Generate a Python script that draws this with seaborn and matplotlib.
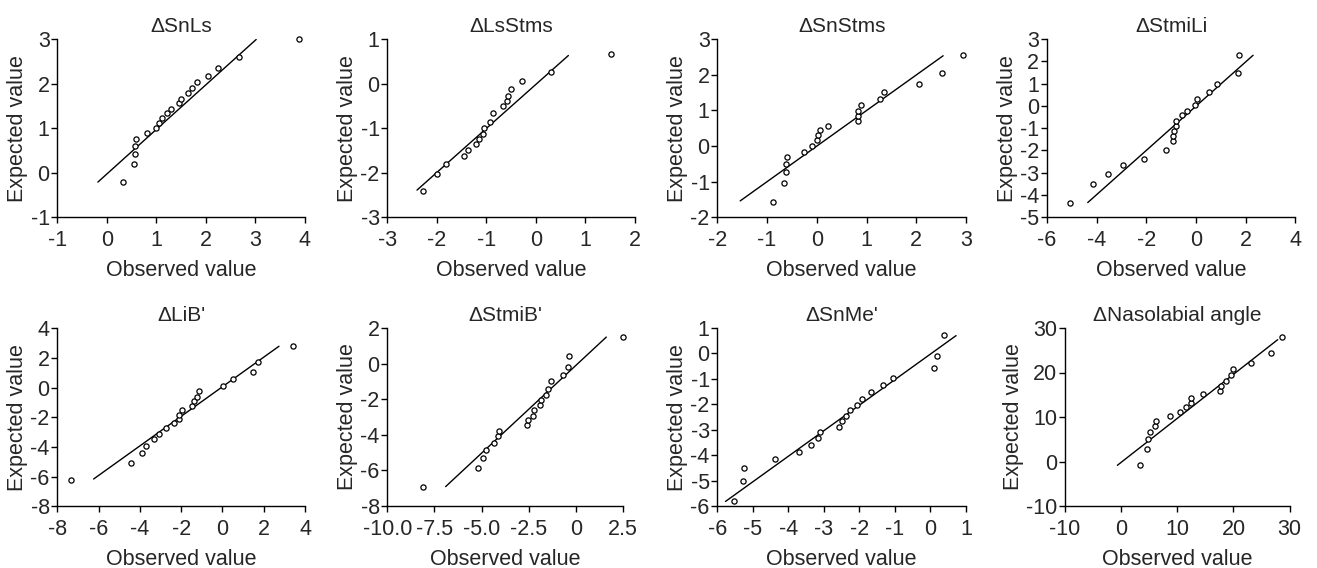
import numpy as np
import pandas as pd
import matplotlib
matplotlib.use("Agg")
import matplotlib.pyplot as plt
import seaborn as sns

# ---------------- data ----------------
titles = ["\u0394SnLs", "\u0394LsStms", "\u0394SnStms", "\u0394StmiLi",
          "\u0394LiB'", "\u0394StmiB'", "\u0394SnMe'", "\u0394Nasolabial angle"]

obs_snls = [0.33, 0.55, 0.57, 0.58, 0.60, 0.81, 0.99, 1.06, 1.12, 1.21, 1.30, 1.45, 1.50, 1.65, 1.73, 1.82, 2.05, 2.25, 2.67, 3.89]
exp_snls = [-0.21, 0.20, 0.42, 0.61, 0.76, 0.88, 1.00, 1.12, 1.22, 1.34, 1.44, 1.56, 1.66, 1.78, 1.89, 2.04, 2.18, 2.36, 2.59, 2.99]
line_x_snls = [-0.18, 3.02]
line_y_snls = [-0.21, 2.99]

obs_lsstms = [-2.27, -2.00, -1.81, -1.44, -1.37, -1.20, -1.14, -1.07, -1.05, -0.92, -0.87, -0.67, -0.59, -0.57, -0.51, -0.27, 0.30, 1.53]
exp_lsstms = [-2.41, -2.02, -1.80, -1.62, -1.49, -1.36, -1.25, -1.14, -1.00, -0.87, -0.67, -0.50, -0.39, -0.27, -0.13, 0.06, 0.27, 0.66]
line_x_lsstms = [-2.40, 0.66]
line_y_lsstms = [-2.39, 0.63]

obs_snstms = [-0.88, -0.65, -0.62, -0.61, -0.60, -0.25, -0.10, 0.00, 0.03, 0.07, 0.22, 0.82, 0.83, 0.83, 0.89, 1.28, 1.36, 2.06, 2.51, 2.93]
exp_snstms = [-1.56, -1.03, -0.74, -0.51, -0.31, -0.16, 0.01, 0.16, 0.30, 0.44, 0.57, 0.71, 0.85, 0.99, 1.16, 1.32, 1.52, 1.75, 2.04, 2.56]
line_x_snstms = [-1.54, 2.54]
line_y_snstms = [-1.54, 2.53]

obs_stmili = [-5.06, -4.13, -3.53, -2.95, -2.08, -1.19, -0.94, -0.94, -0.87, -0.82, -0.79, -0.56, -0.38, -0.04, 0.04, 0.52, 0.83, 1.70, 1.73]
exp_stmili = [-4.35, -3.52, -3.04, -2.67, -2.37, -1.96, -1.59, -1.36, -1.14, -0.92, -0.69, -0.42, -0.23, 0.03, 0.31, 0.62, 1.00, 1.46, 2.30]
line_x_stmili = [-4.36, 2.30]
line_y_stmili = [-4.34, 2.27]

obs_lib = [-7.34, -4.45, -3.90, -3.72, -3.33, -3.09, -2.75, -2.33, -2.09, -2.09, -1.94, -1.47, -1.39, -1.21, -1.13, 0.03, 0.53, 1.48, 1.73, 3.41]
exp_lib = [-6.20, -5.06, -4.43, -3.91, -3.48, -3.15, -2.74, -2.40, -2.13, -1.82, -1.53, -1.21, -0.90, -0.63, -0.20, 0.13, 0.58, 1.06, 1.71, 2.81]
line_x_lib = [-6.24, 2.74]
line_y_lib = [-6.16, 2.79]

obs_stmib = [-8.09, -5.18, -4.92, -4.79, -4.33, -4.16, -4.09, -2.60, -2.57, -2.28, -2.21, -1.90, -1.84, -1.60, -1.49, -1.33, -0.68, -0.45, -0.40, 2.46]
exp_stmib = [-6.93, -5.88, -5.30, -4.83, -4.44, -4.08, -3.76, -3.46, -3.18, -2.92, -2.60, -2.33, -2.02, -1.75, -1.41, -1.00, -0.65, -0.20, 0.42, 1.49]
line_x_stmib = [-6.91, 1.60]
line_y_stmib = [-6.91, 1.49]

obs_snme = [-5.53, -5.28, -5.24, -4.37, -3.69, -3.35, -3.16, -3.10, -2.58, -2.50, -2.39, -2.27, -2.07, -1.93, -1.68, -1.34, -1.05, 0.11, 0.17, 0.37]
exp_snme = [-5.81, -5.02, -4.51, -4.16, -3.87, -3.58, -3.33, -3.10, -2.87, -2.65, -2.47, -2.22, -2.01, -1.77, -1.51, -1.25, -0.95, -0.57, -0.09, 0.73]
line_x_snme = [-5.77, 0.72]
line_y_snme = [-5.81, 0.70]

obs_naso = [3.39, 4.64, 4.76, 5.23, 6.00, 6.24, 8.67, 10.56, 11.57, 12.52, 12.52, 14.59, 17.56, 17.85, 18.74, 19.63, 19.87, 23.13, 26.74, 28.70]
exp_naso = [-0.71, 2.88, 4.98, 6.63, 7.90, 9.18, 10.15, 11.20, 12.17, 13.07, 14.27, 15.09, 15.92, 17.04, 18.09, 19.36, 20.71, 22.21, 24.31, 27.90]
line_x_naso = [-0.64, 27.87]
line_y_naso = [-0.86, 27.38]

xticks_snls = [-1, 0, 1, 2, 3, 4];           yticks_snls = [-1, 0, 1, 2, 3]
xticks_lsstms = [-3, -2, -1, 0, 1, 2];       yticks_lsstms = [-3, -2, -1, 0, 1]
xticks_snstms = [-2, -1, 0, 1, 2, 3];        yticks_snstms = [-2, -1, 0, 1, 2, 3]
xticks_stmili = [-6, -4, -2, 0, 2, 4];       yticks_stmili = [-5, -4, -3, -2, -1, 0, 1, 2, 3]
xticks_lib = [-8, -6, -4, -2, 0, 2, 4];      yticks_lib = [-8, -6, -4, -2, 0, 2, 4]
xticks_stmib = [-10, -7.5, -5, -2.5, 0, 2.5]; yticks_stmib = [-8, -6, -4, -2, 0, 2]
xticklabels_stmib = ["-10.0", "-7.5", "-5.0", "-2.5", "0", "2.5"]
xticks_snme = [-6, -5, -4, -3, -2, -1, 0, 1]; yticks_snme = [-6, -5, -4, -3, -2, -1, 0, 1]
xticks_naso = [-10, 0, 10, 20, 30];          yticks_naso = [-10, 0, 10, 20, 30]

panels = [
    (obs_snls, exp_snls, line_x_snls, line_y_snls, xticks_snls, yticks_snls, None),
    (obs_lsstms, exp_lsstms, line_x_lsstms, line_y_lsstms, xticks_lsstms, yticks_lsstms, None),
    (obs_snstms, exp_snstms, line_x_snstms, line_y_snstms, xticks_snstms, yticks_snstms, None),
    (obs_stmili, exp_stmili, line_x_stmili, line_y_stmili, xticks_stmili, yticks_stmili, None),
    (obs_lib, exp_lib, line_x_lib, line_y_lib, xticks_lib, yticks_lib, None),
    (obs_stmib, exp_stmib, line_x_stmib, line_y_stmib, xticks_stmib, yticks_stmib, xticklabels_stmib),
    (obs_snme, exp_snme, line_x_snme, line_y_snme, xticks_snme, yticks_snme, None),
    (obs_naso, exp_naso, line_x_naso, line_y_naso, xticks_naso, yticks_naso, None),
]

# ---------------- layout (pixel boxes: left, top, right, bottom) ----------------
W, H = 1317, 568
boxes = [
    (57.3, 39, 304.7, 217.3), (387.3, 39, 634.7, 217.3),
    (717.3, 39, 966, 217.3), (1047, 39, 1295.3, 217.3),
    (57.3, 328.3, 305, 506.3), (387.3, 328, 623.3, 506),
    (717.3, 328, 966, 506.3), (1064.7, 328, 1289.7, 506),
]

sns.set_style("ticks")
plt.rcParams["font.family"] = ["Liberation Sans", "DejaVu Sans"]
plt.rcParams["axes.unicode_minus"] = False

fig = plt.figure(figsize=(W / 100, H / 100), dpi=100)

def fmt(v):
    return str(int(v)) if float(v).is_integer() else str(v)

for (obs, exp, lx, ly, xt, yt, xtl), (l, t, r, b), title in zip(panels, boxes, titles):
    ax = fig.add_axes([l / W, 1 - b / H, (r - l) / W, (b - t) / H])
    df = pd.DataFrame({"Observed value": obs, "Expected value": exp})
    ldf = pd.DataFrame({"x": lx, "y": ly})
    sns.lineplot(data=ldf, x="x", y="y", ax=ax, color="black", linewidth=1.0,
                 estimator=None, sort=False)
    sns.scatterplot(data=df, x="Observed value", y="Expected value", ax=ax,
                    marker="o", s=14, facecolor="white", edgecolor="black",
                    linewidth=0.9, clip_on=False, zorder=3)
    ax.set_xlim(xt[0], xt[-1])
    ax.set_ylim(yt[0], yt[-1])
    ax.set_xticks(xt)
    ax.set_yticks(yt)
    ax.set_xticklabels(xtl if xtl is not None else [fmt(v) for v in xt], fontsize=15.5)
    ax.set_yticklabels([fmt(v) for v in yt], fontsize=15.5)
    ax.tick_params(direction="out", length=4, width=1, color="black")
    ax.tick_params(axis="x", pad=5.5)
    ax.tick_params(axis="y", pad=1.5)
    ax.set_xlabel("Observed value", fontsize=15.5, labelpad=6)
    ax.set_ylabel("Expected value", fontsize=15.5, labelpad=1.5)
    ax.set_title(title, fontsize=15, pad=5)
    sns.despine(ax=ax)
    for s in ("left", "bottom"):
        ax.spines[s].set_color("black")
        ax.spines[s].set_linewidth(1.0)
    ax.set_facecolor("white")

fig.savefig("out.png", dpi=100, facecolor="white")
